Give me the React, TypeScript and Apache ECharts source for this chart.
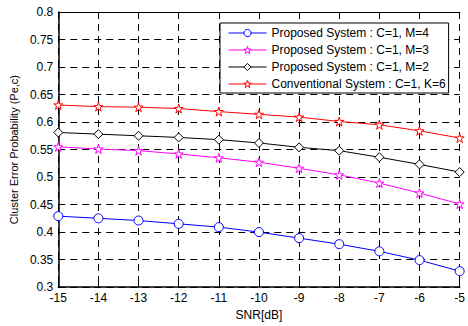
import React, { useEffect, useRef } from "react";
import * as echarts from "echarts";

const snr = [-15, -14, -13, -12, -11, -10, -9, -8, -7, -6, -5];
const propM4 = [0.429, 0.425, 0.421, 0.415, 0.409, 0.4, 0.389, 0.378, 0.365, 0.349, 0.329];
const propM3 = [0.555, 0.551, 0.548, 0.542, 0.535, 0.527, 0.516, 0.504, 0.489, 0.471, 0.451];
const propM2 = [0.581, 0.578, 0.575, 0.572, 0.568, 0.562, 0.554, 0.548, 0.536, 0.523, 0.509];
const convK6 = [0.631, 0.628, 0.627, 0.6245, 0.619, 0.614, 0.609, 0.601, 0.595, 0.584, 0.571];
const seriesNames = [
  "Proposed System : C=1, M=4",
  "Proposed System : C=1, M=3",
  "Proposed System : C=1, M=2",
  "Conventional System : C=1, K=6",
];
const seriesColors = ["#0000ff", "#ff00ff", "#000000", "#ff0000"];

const STAR =
  "path://M0,-100 L22.45,-30.9 L95.1,-30.9 L36.3,11.8 L58.8,80.9 L0,38.2 L-58.8,80.9 L-36.3,11.8 L-95.1,-30.9 L-22.45,-30.9 Z";
const DIAMOND = "path://M0,-10 L10,0 L0,10 L-10,0 Z";
const seriesSymbols = ["circle", STAR, DIAMOND, STAR];
const seriesData = [propM4, propM3, propM2, convK6];

const FONT = "Liberation Sans, Arial, sans-serif";

export default function App() {
  const ref = useRef<HTMLDivElement>(null);
  useEffect(() => {
    document.body.style.margin = "0";
    const chart = echarts.init(ref.current!, null, { renderer: "svg" });
    const series = seriesNames.map((name, k) => ({
      name,
      type: "line",
      data: snr.map((x, i) => [x, seriesData[k][i]]),
      symbol: seriesSymbols[k],
      symbolSize: 9,
      showAllSymbol: true,
      lineStyle: { color: seriesColors[k], width: 1 },
      itemStyle: { color: "#ffffff", borderColor: seriesColors[k], borderWidth: 1 },
      emphasis: { disabled: true },
    }));
    chart.setOption({
      animation: false,
      backgroundColor: "#ffffff",
      textStyle: { fontFamily: FONT },
      grid: { left: 57, right: 1, top: 12, bottom: 32, show: false },
      legend: {
        orient: "vertical",
        left: 220,
        top: 23,
        backgroundColor: "#ffffff",
        borderColor: "#000000",
        borderWidth: 1,
        padding: [4, 3, 3, 8],
        itemWidth: 38,
        itemHeight: 9,
        itemGap: 5,
        borderRadius: 0,
        textStyle: { fontSize: 12, color: "#000", fontFamily: FONT },
        data: seriesNames.map((name, k) => ({
          name,
          itemStyle: { color: "#ffffff", borderColor: seriesColors[k], borderWidth: 1 },
          lineStyle: { color: seriesColors[k], width: 1 },
        })),
      },
      xAxis: [
        {
          type: "value",
          min: -15,
          max: -5,
          interval: 1,
          name: "SNR[dB]",
          nameLocation: "middle",
          nameGap: 20,
          nameTextStyle: { fontSize: 12, color: "#000", fontFamily: FONT },
          axisLine: { show: true, lineStyle: { color: "#000", width: 1.5 } },
          axisTick: { show: true, inside: true, length: 4, lineStyle: { color: "#000" } },
          axisLabel: { fontSize: 12, color: "#000", margin: 5, fontFamily: FONT },
          splitLine: { show: true, lineStyle: { color: "#000", type: [7, 5], width: 1 } },
        },
        {
          type: "value",
          position: "top",
          min: -15,
          max: -5,
          interval: 1,
          axisLine: { show: true, onZero: false, lineStyle: { color: "#000", width: 1.2 } },
          axisTick: { show: true, inside: true, length: 4, lineStyle: { color: "#000" } },
          axisLabel: { show: false },
          splitLine: { show: false },
        },
      ],
      yAxis: [
        {
          type: "value",
          min: 0.3,
          max: 0.8,
          interval: 0.05,
          name: "Cluster Error Probability (Pe,c)",
          nameLocation: "middle",
          nameGap: 38,
          nameTextStyle: { fontSize: 11, color: "#000", fontFamily: FONT },
          axisLine: { show: true, onZero: false, lineStyle: { color: "#000", width: 1.5 } },
          axisTick: { show: true, inside: true, length: 4, lineStyle: { color: "#000" } },
          axisLabel: {
            fontSize: 12,
            color: "#000",
            margin: 5,
            fontFamily: FONT,
            formatter: (v: number) => String(+v.toFixed(2)),
          },
          splitLine: { show: true, lineStyle: { color: "#000", type: [7, 5], width: 1 } },
        },
      ],
      series,
    });
    return () => chart.dispose();
  }, []);
  return <div ref={ref} style={{ width: 468, height: 326 }} />;
}
